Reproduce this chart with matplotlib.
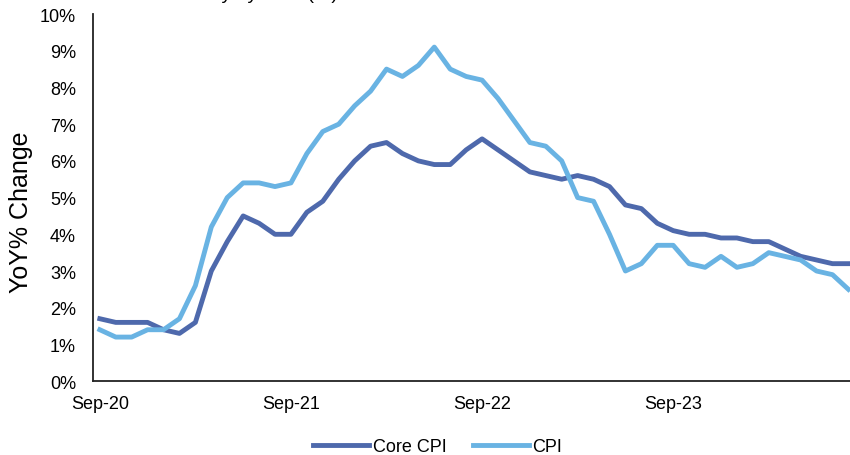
import matplotlib.pyplot as plt
from matplotlib.ticker import FuncFormatter

plt.rcParams['font.family'] = ['Liberation Sans', 'DejaVu Sans']

# monthly YoY % change, Sep-20 .. Aug-24
core_cpi = [1.7, 1.6, 1.6, 1.6, 1.4, 1.3, 1.6, 3.0, 3.8, 4.5, 4.3, 4.0,
            4.0, 4.6, 4.9, 5.5, 6.0, 6.4, 6.5, 6.2, 6.0, 5.9, 5.9, 6.3,
            6.6, 6.3, 6.0, 5.7, 5.6, 5.5, 5.6, 5.5, 5.3, 4.8, 4.7, 4.3,
            4.1, 4.0, 4.0, 3.9, 3.9, 3.8, 3.8, 3.6, 3.4, 3.3, 3.2, 3.2]
cpi = [1.4, 1.2, 1.2, 1.4, 1.4, 1.7, 2.6, 4.2, 5.0, 5.4, 5.4, 5.3,
       5.4, 6.2, 6.8, 7.0, 7.5, 7.9, 8.5, 8.3, 8.6, 9.1, 8.5, 8.3,
       8.2, 7.7, 7.1, 6.5, 6.4, 6.0, 5.0, 4.9, 4.0, 3.0, 3.2, 3.7,
       3.7, 3.2, 3.1, 3.4, 3.1, 3.2, 3.5, 3.4, 3.3, 3.0, 2.9, 2.5]
tick_pos = [0, 12, 24, 36]
tick_labels = ['Sep-20', 'Sep-21', 'Sep-22', 'Sep-23']

fig = plt.figure(figsize=(8.5, 4.56), dpi=100)
ax = fig.add_axes([0.109, 0.162, 0.891, 0.805])

months = range(len(cpi))
ax.plot(months, core_cpi, color='#4E69AC', lw=3.5, label='Core CPI')
ax.plot(months, cpi, color='#69B3E3', lw=3.5, label='CPI')

ax.set_xlim(-0.45, 47.1)
ax.set_ylim(0, 10)
ax.set_yticks(range(0, 11))
ax.yaxis.set_major_formatter(FuncFormatter(lambda v, p: f'{v:.0f}%'))
ax.set_xticks(tick_pos)
ax.set_xticklabels(tick_labels)
ax.tick_params(length=0, labelsize=13, colors='black')
ax.tick_params(axis='y', pad=12)
ax.tick_params(axis='x', pad=10)

for s in ['top', 'right']:
    ax.spines[s].set_visible(False)
for s in ['left', 'bottom']:
    ax.spines[s].set_color('#222222')
    ax.spines[s].set_linewidth(1.3)

ax.set_ylabel('YoY% Change', fontsize=18, va='center')
ax.yaxis.set_label_coords(-0.094, 0.463)

# title sits mostly above the top edge, as in the source image
fig.text(0.397, 1.002, 'Inflation Monthly by Year (%)', ha='right', va='baseline', fontsize=14)

fig.legend(loc='center', bbox_to_anchor=(0.515, 0.018), ncol=2, frameon=False,
           fontsize=13, handlelength=3.1, handletextpad=0.2, columnspacing=1.45)

fig.savefig('out.png', dpi=100)
